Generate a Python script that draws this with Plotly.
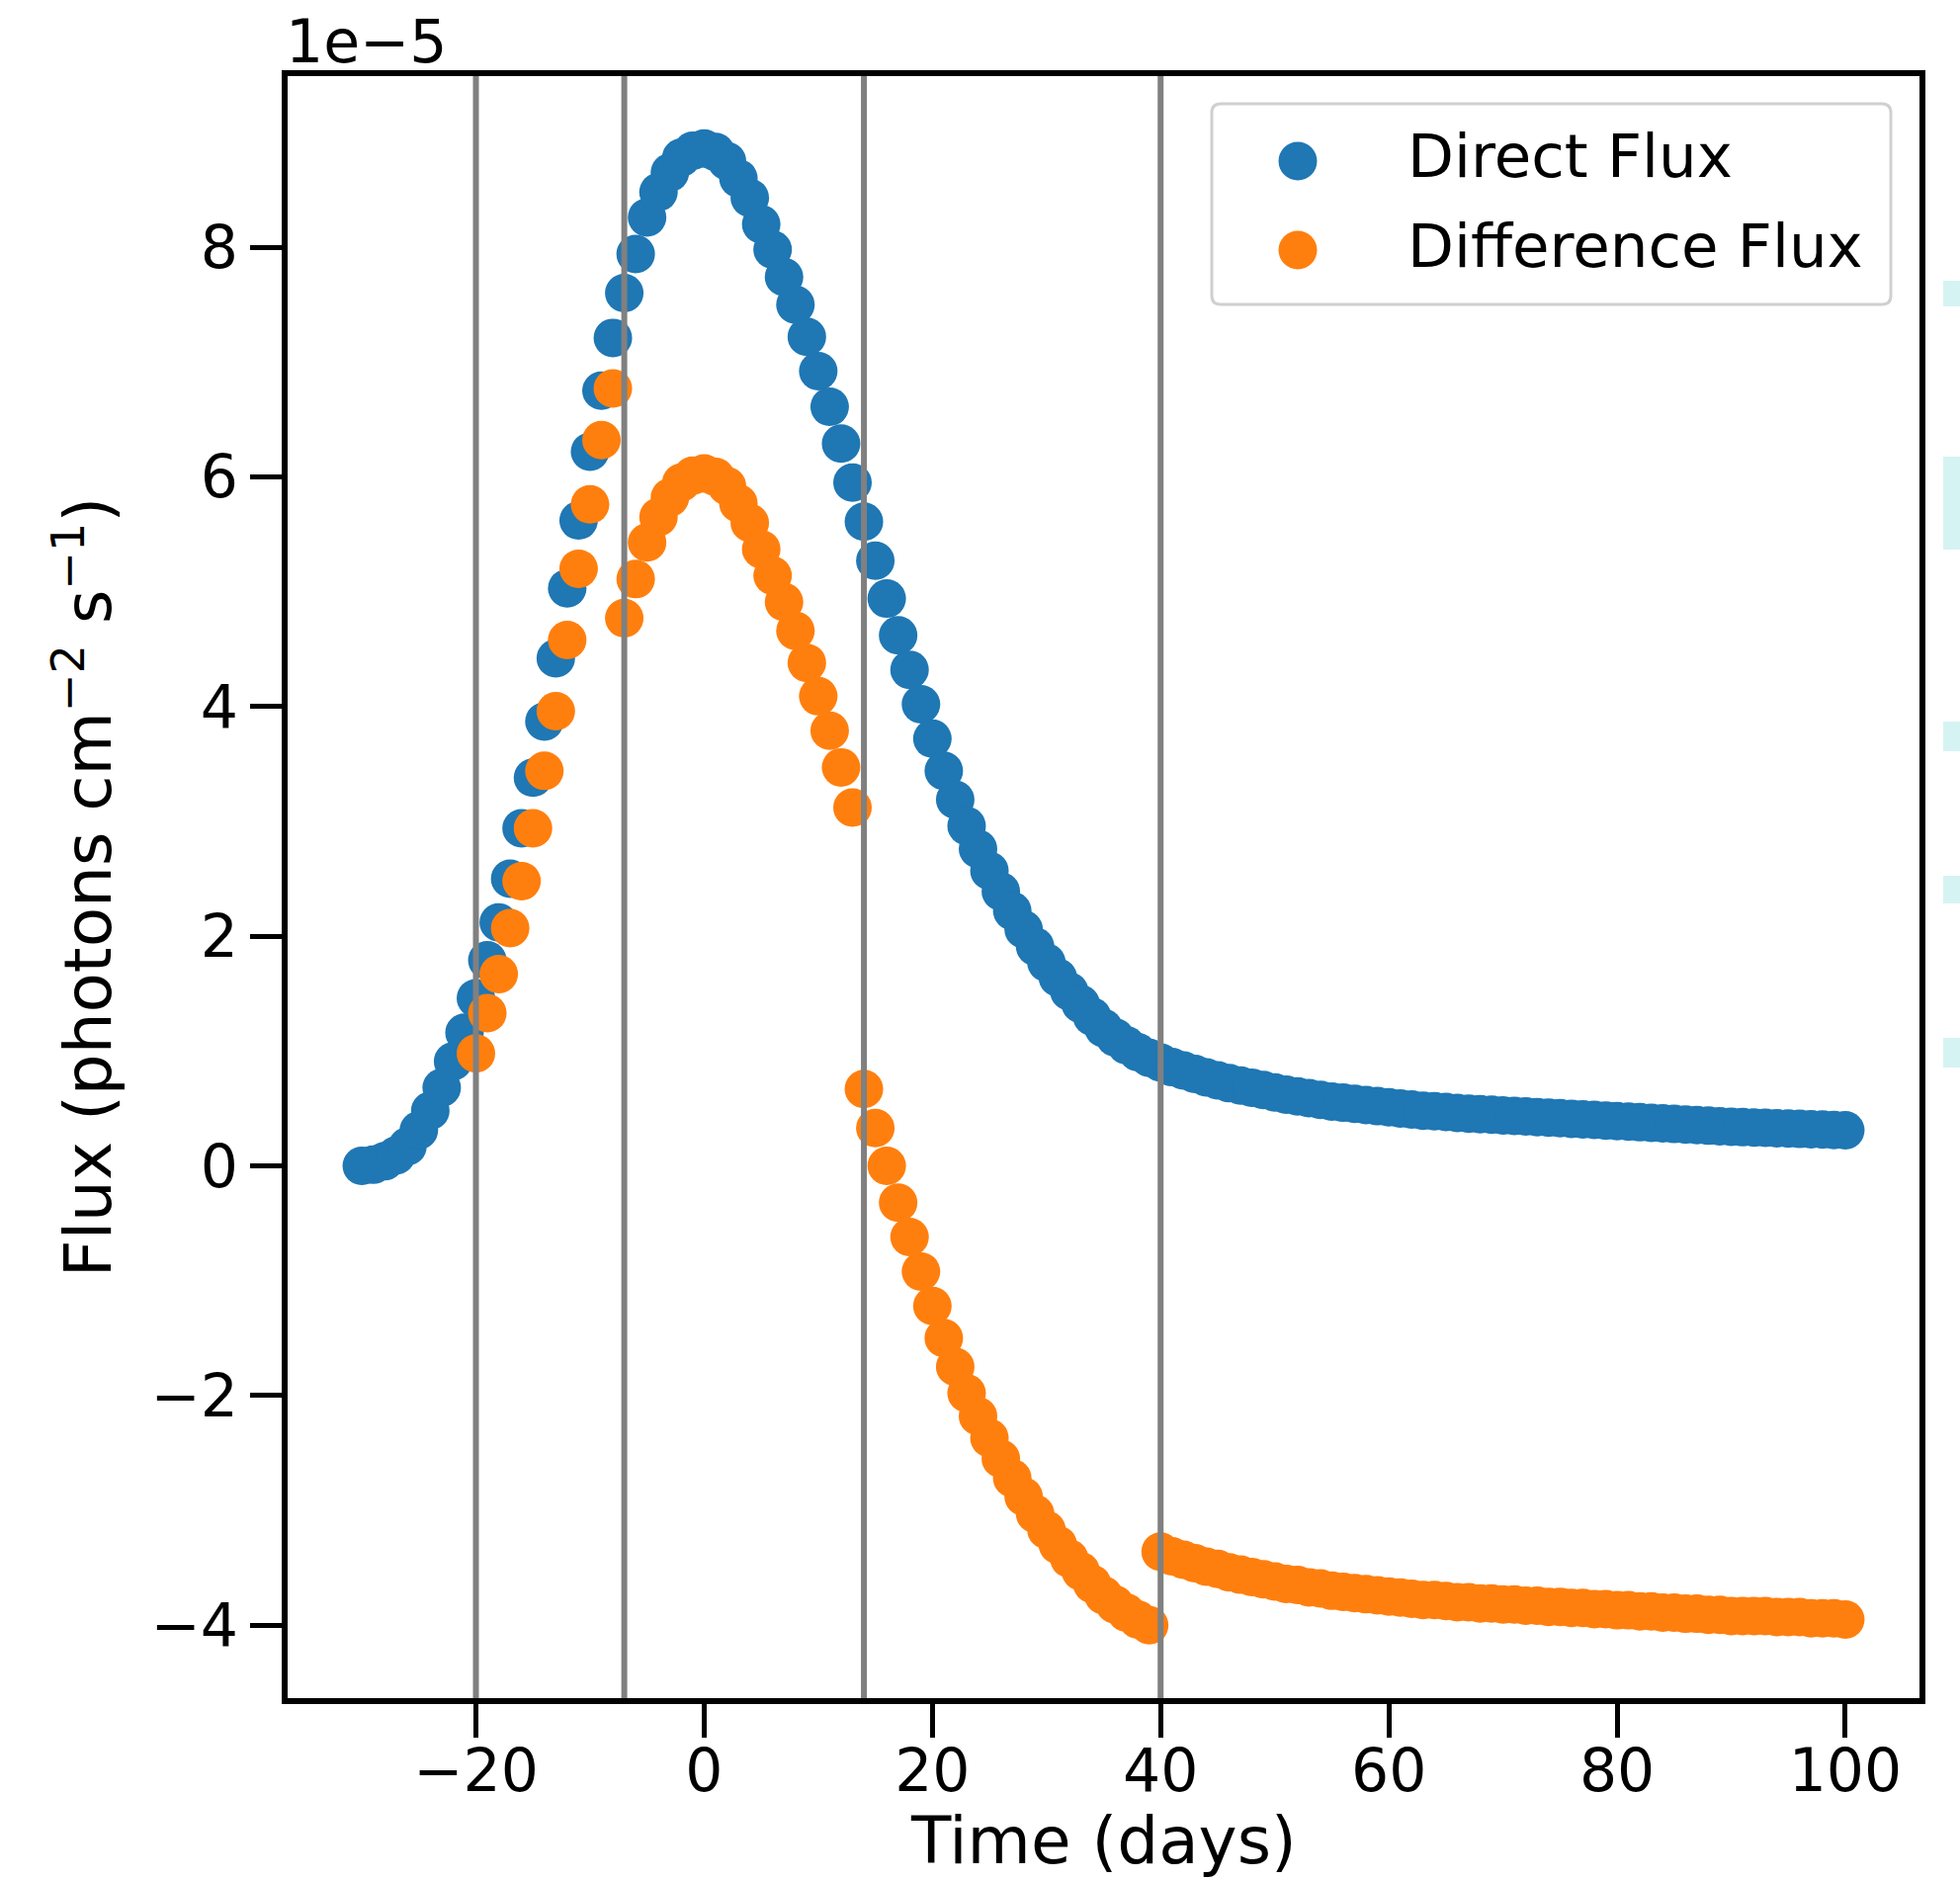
import plotly.graph_objects as go

# ---------------------------------------------------------------- data
SCALE = 1e-5  # fluxes below are in units of 1e-5 photons cm^-2 s^-1

direct_days = list(range(-30, 101))
direct_flux = [
    0.00, 0.01, 0.04, 0.09, 0.17, 0.31, 0.48, 0.68, 0.91, 1.16,          # -30 .. -21
    1.46, 1.79, 2.12, 2.50, 2.94, 3.38, 3.87, 4.42, 5.03, 5.62,          # -20 .. -11
    6.22, 6.75, 7.21, 7.60, 7.94, 8.26, 8.48, 8.65, 8.78, 8.84,          # -10 .. -1
    8.86, 8.83, 8.75, 8.60, 8.43, 8.20, 7.98, 7.74, 7.50, 7.22,          # 0 .. 9
    6.92, 6.61, 6.29, 5.95, 5.61, 5.27, 4.94, 4.62, 4.32, 4.02,          # 10 .. 19
    3.72, 3.44, 3.19, 2.96, 2.76, 2.57, 2.39, 2.22, 2.06, 1.91,          # 20 .. 29
    1.77, 1.64, 1.52, 1.41, 1.30, 1.20, 1.12, 1.05, 0.99, 0.94,          # 30 .. 39
    0.90, 0.86, 0.83, 0.80, 0.77, 0.745, 0.72, 0.70, 0.68, 0.66,         # 40 .. 49
    0.64, 0.62, 0.605, 0.59, 0.575, 0.56, 0.55, 0.54, 0.53, 0.52,        # 50 .. 59
    0.51, 0.50, 0.49, 0.48, 0.475, 0.47, 0.46, 0.455, 0.45, 0.445,       # 60 .. 69
    0.44, 0.435, 0.43, 0.425, 0.42, 0.415, 0.41, 0.405, 0.40, 0.395,     # 70 .. 79
    0.39, 0.385, 0.38, 0.375, 0.37, 0.365, 0.36, 0.355, 0.35, 0.345,     # 80 .. 89
    0.34, 0.337, 0.334, 0.331, 0.328, 0.325, 0.322, 0.319, 0.316, 0.313, # 90 .. 99
    0.31,                                                                # 100
]

difference_days = list(range(-20, 101))
difference_flux = [
    0.98, 1.33, 1.67, 2.07, 2.48, 2.94, 3.44, 3.96, 4.58, 5.20,          # -20 .. -11
    5.76, 6.32, 6.77,                                                    # -10 .. -8
    4.77, 5.11, 5.43, 5.65, 5.82, 5.95, 6.01,                            # -7 .. -1
    6.03, 6.00, 5.92, 5.77, 5.60, 5.37, 5.14, 4.91, 4.66, 4.38,          # 0 .. 9
    4.09, 3.79, 3.47, 3.12,                                              # 10 .. 13
    0.67, 0.33, 0.00, -0.32, -0.62, -0.92,                               # 14 .. 19
    -1.22, -1.50, -1.75, -1.98, -2.18, -2.37, -2.55, -2.72, -2.88, -3.03,  # 20 .. 29
    -3.17, -3.30, -3.42, -3.53, -3.64, -3.74, -3.82, -3.89, -3.95, -4.00,  # 30 .. 39
    -3.36, -3.40, -3.43, -3.46, -3.49, -3.51, -3.54, -3.56, -3.58, -3.60,  # 40 .. 49
    -3.62, -3.64, -3.65, -3.67, -3.68, -3.70, -3.71, -3.72, -3.73, -3.74,  # 50 .. 59
    -3.75, -3.76, -3.77, -3.78, -3.78, -3.79, -3.80, -3.80, -3.81, -3.81,  # 60 .. 69
    -3.82, -3.82, -3.83, -3.83, -3.84, -3.84, -3.85, -3.85, -3.86, -3.86,  # 70 .. 79
    -3.87, -3.87, -3.88, -3.88, -3.89, -3.89, -3.90, -3.90, -3.91, -3.91,  # 80 .. 89
    -3.92, -3.92, -3.92, -3.92, -3.93, -3.93, -3.93, -3.94, -3.94, -3.94,  # 90 .. 99
    -3.95,                                                                 # 100
]

# template epochs marked by vertical lines
epoch_days = [-20, -7, 14, 40]

x_ticks = [-20, 0, 20, 40, 60, 80, 100]
x_tick_text = ["\u221220", "0", "20", "40", "60", "80", "100"]
y_ticks = [-4, -2, 0, 2, 4, 6, 8]
y_tick_text = ["\u22124", "\u22122", "0", "2", "4", "6", "8"]

series_names = ["Direct Flux", "Difference Flux"]
series_colors = ["#1f77b4", "#ff7f0e"]

x_title = "Time (days)"
y_title = "Flux (photons cm<sup>\u22122</sup> s<sup>\u22121</sup>)"

# ---------------------------------------------------------------- layout geometry (pixels)
FIG_W, FIG_H = 1983, 1902
PLOT_L, PLOT_R, PLOT_T, PLOT_B = 291, 1942, 77, 1718
FONT = "DejaVu Sans"
TICK_FS = 60
LABEL_FS = 66
LEGEND_FS = 61
MARKER_PX = 39


def paper_x(px):
    return (px - PLOT_L) / (PLOT_R - PLOT_L)


def paper_y(py):
    return (PLOT_B - py) / (PLOT_B - PLOT_T)


fig = go.Figure()

for days, flux, name, color in [
    (direct_days, direct_flux, series_names[0], series_colors[0]),
    (difference_days, difference_flux, series_names[1], series_colors[1]),
]:
    fig.add_trace(go.Scatter(
        x=days,
        y=[v * SCALE for v in flux],
        mode="markers",
        name=name,
        marker=dict(size=MARKER_PX, color=color, line=dict(width=0)),
        showlegend=False,
    ))

shapes = []
# epoch markers drawn over the points
for d in epoch_days:
    shapes.append(dict(type="line", xref="x", yref="paper", x0=d, x1=d, y0=0, y1=1,
                       line=dict(color="#808080", width=6), layer="above"))

# legend frame with rounded corners
lx0, lx1 = paper_x(1226), paper_x(1913)
ly_top, ly_bot = paper_y(105), paper_y(308)
rx = 9 / (PLOT_R - PLOT_L)
ry = 9 / (PLOT_B - PLOT_T)
legend_path = (
    f"M {lx0 + rx},{ly_top} L {lx1 - rx},{ly_top} Q {lx1},{ly_top} {lx1},{ly_top - ry} "
    f"L {lx1},{ly_bot + ry} Q {lx1},{ly_bot} {lx1 - rx},{ly_bot} "
    f"L {lx0 + rx},{ly_bot} Q {lx0},{ly_bot} {lx0},{ly_bot + ry} "
    f"L {lx0},{ly_top - ry} Q {lx0},{ly_top} {lx0 + rx},{ly_top} Z"
)
shapes.append(dict(type="path", xref="paper", yref="paper", path=legend_path,
                   fillcolor="rgba(255,255,255,0.8)", line=dict(color="#d0d0d0", width=3),
                   layer="above"))

legend_rows_y = [163, 253]
legend_text_y = [157, 249]
for row_y, color in zip(legend_rows_y, series_colors):
    shapes.append(dict(type="circle", xref="paper", yref="paper",
                       xsizemode="pixel", ysizemode="pixel",
                       xanchor=paper_x(1313), yanchor=paper_y(row_y),
                       x0=-MARKER_PX / 2, x1=MARKER_PX / 2,
                       y0=-MARKER_PX / 2, y1=MARKER_PX / 2,
                       fillcolor=color, line=dict(width=0), layer="above"))

# pale tabs along the right-hand edge
for top, bot in [(284, 310), (462, 556), (730, 760), (886, 914), (1050, 1080)]:
    shapes.append(dict(type="rect", xref="paper", yref="paper",
                       x0=paper_x(1966), x1=paper_x(1990),
                       y0=paper_y(bot), y1=paper_y(top),
                       fillcolor="#d6f3f3", line=dict(width=0), layer="above"))

annotations = []
for name, ty in zip(series_names, legend_text_y):
    annotations.append(dict(text=name, xref="paper", yref="paper",
                            x=paper_x(1422), y=paper_y(ty), xanchor="left", yanchor="middle",
                            showarrow=False, font=dict(family=FONT, size=LEGEND_FS, color="black")))
annotations.append(dict(text="1e\u22125", xref="paper", yref="paper",
                        x=paper_x(287), y=paper_y(42), xanchor="left", yanchor="middle",
                        showarrow=False, font=dict(family=FONT, size=TICK_FS, color="black")))
# x-axis title placed below the tick labels
annotations.append(dict(text=x_title, xref="paper", yref="paper",
                        x=0.5, y=paper_y(1862), xanchor="center", yanchor="middle",
                        showarrow=False, font=dict(family=FONT, size=LABEL_FS, color="black")))

axis_common = dict(
    showline=True, linecolor="black", linewidth=6, mirror=True,
    ticks="outside", tickcolor="black", tickwidth=5,
    showgrid=False, zeroline=False, automargin=False,
    tickfont=dict(family=FONT, size=TICK_FS, color="black"),
)

fig.update_layout(
    width=FIG_W, height=FIG_H,
    margin=dict(l=PLOT_L, r=FIG_W - PLOT_R, t=PLOT_T, b=FIG_H - PLOT_B, pad=0),
    paper_bgcolor="white", plot_bgcolor="white",
    font=dict(family=FONT, color="black"),
    xaxis=dict(
        range=[-36.5, 106.5], tickmode="array", tickvals=x_ticks, ticktext=x_tick_text,
        ticklen=34, ticklabelstandoff=-18,
        **axis_common,
    ),
    yaxis=dict(
        range=[-4.635 * SCALE, 9.49 * SCALE], tickmode="array",
        tickvals=[t * SCALE for t in y_ticks], ticktext=y_tick_text,
        ticklen=32,
        title=dict(text=y_title, font=dict(family=FONT, size=LABEL_FS), standoff=20),
        **axis_common,
    ),
    shapes=shapes,
    annotations=annotations,
    showlegend=False,
)

fig.write_html("out.html")
